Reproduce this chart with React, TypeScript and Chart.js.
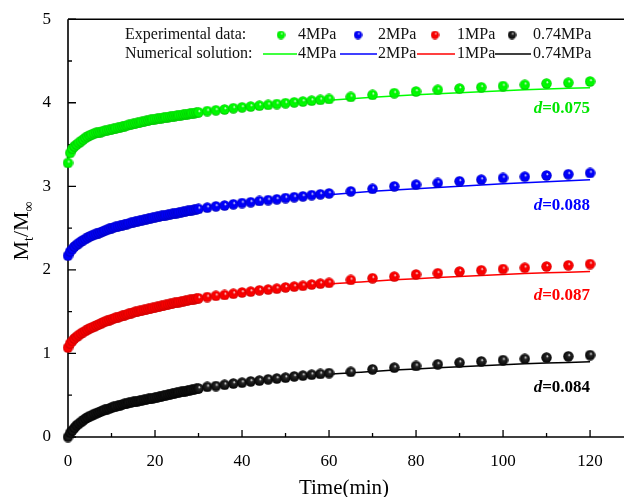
import React, { useEffect, useRef } from 'react';
import { Chart, registerables } from 'chart.js';

Chart.register(...registerables);

const expTimes = [
  0, 0.5, 1, 1.5, 2, 2.5, 3, 3.5, 4, 4.5,
  5, 5.5, 6, 6.5, 7, 7.5, 8, 8.5, 9, 9.5,
  10, 10.5, 11, 11.5, 12, 12.5, 13, 13.5, 14, 14.5,
  15, 15.5, 16, 16.5, 17, 17.5, 18, 18.5, 19, 19.5,
  20, 20.5, 21, 21.5, 22, 22.5, 23, 23.5, 24, 24.5,
  25, 25.5, 26, 26.5, 27, 27.5, 28, 28.5, 29, 29.5,
  30, 32, 34, 36, 38, 40, 42, 44, 46, 48,
  50, 52, 54, 56, 58, 60, 65, 70, 75, 80,
  85, 90, 95, 100, 105, 110, 115, 120,
];

const exp4MPa = [
  3.28, 3.40, 3.45, 3.48, 3.50, 3.52, 3.54, 3.56, 3.58, 3.595,
  3.61, 3.62, 3.63, 3.64, 3.645, 3.65, 3.66, 3.665, 3.67, 3.675,
  3.68, 3.687, 3.694, 3.70, 3.707, 3.714, 3.72, 3.727, 3.734, 3.74,
  3.746, 3.752, 3.758, 3.764, 3.77, 3.776, 3.782, 3.788, 3.794, 3.80,
  3.805, 3.809, 3.813, 3.817, 3.821, 3.825, 3.829, 3.833, 3.837, 3.841,
  3.845, 3.849, 3.853, 3.857, 3.861, 3.865, 3.869, 3.873, 3.877, 3.881,
  3.885, 3.90, 3.91, 3.92, 3.935, 3.945, 3.955, 3.965, 3.975, 3.985,
  3.995, 4.005, 4.015, 4.025, 4.035, 4.045, 4.07, 4.095, 4.115, 4.135,
  4.155, 4.17, 4.185, 4.20, 4.215, 4.23, 4.24, 4.255,
];

const exp2MPa = [
  2.17, 2.22, 2.25, 2.28, 2.30, 2.32, 2.34, 2.355, 2.37, 2.385,
  2.40, 2.41, 2.42, 2.43, 2.44, 2.45, 2.46, 2.47, 2.48, 2.49,
  2.50, 2.507, 2.514, 2.521, 2.528, 2.535, 2.542, 2.549, 2.556, 2.563,
  2.57, 2.576, 2.582, 2.588, 2.594, 2.60, 2.606, 2.612, 2.618, 2.624,
  2.63, 2.635, 2.64, 2.645, 2.65, 2.655, 2.66, 2.665, 2.67, 2.675,
  2.68, 2.685, 2.69, 2.695, 2.70, 2.705, 2.71, 2.715, 2.72, 2.725,
  2.73, 2.745, 2.76, 2.77, 2.785, 2.80, 2.81, 2.825, 2.835, 2.845,
  2.86, 2.87, 2.88, 2.895, 2.905, 2.915, 2.94, 2.97, 3.00, 3.02,
  3.04, 3.06, 3.08, 3.10, 3.115, 3.13, 3.145, 3.16,
];

const exp1MPa = [
  1.07, 1.12, 1.15, 1.18, 1.20, 1.22, 1.24, 1.255, 1.27, 1.285,
  1.30, 1.31, 1.32, 1.335, 1.345, 1.355, 1.37, 1.38, 1.39, 1.40,
  1.41, 1.418, 1.426, 1.434, 1.442, 1.45, 1.458, 1.466, 1.474, 1.482,
  1.49, 1.496, 1.502, 1.508, 1.514, 1.52, 1.526, 1.532, 1.538, 1.544,
  1.55, 1.556, 1.562, 1.568, 1.574, 1.58, 1.586, 1.592, 1.598, 1.604,
  1.61, 1.615, 1.62, 1.625, 1.63, 1.635, 1.64, 1.645, 1.65, 1.655,
  1.66, 1.675, 1.69, 1.70, 1.715, 1.73, 1.74, 1.755, 1.765, 1.775,
  1.79, 1.80, 1.81, 1.825, 1.835, 1.845, 1.88, 1.90, 1.92, 1.945,
  1.96, 1.98, 1.995, 2.01, 2.025, 2.04, 2.055, 2.07,
];

const exp074MPa = [
  0.00, 0.05, 0.08, 0.11, 0.14, 0.16, 0.18, 0.20, 0.22, 0.235,
  0.25, 0.26, 0.275, 0.285, 0.295, 0.305, 0.315, 0.325, 0.335, 0.34,
  0.35, 0.36, 0.365, 0.375, 0.38, 0.39, 0.395, 0.40, 0.41, 0.415,
  0.42, 0.425, 0.43, 0.435, 0.44, 0.445, 0.45, 0.455, 0.46, 0.465,
  0.47, 0.476, 0.482, 0.488, 0.494, 0.50, 0.506, 0.512, 0.518, 0.524,
  0.53, 0.535, 0.54, 0.545, 0.55, 0.555, 0.56, 0.565, 0.57, 0.575,
  0.58, 0.60, 0.61, 0.625, 0.64, 0.65, 0.665, 0.675, 0.69, 0.70,
  0.71, 0.725, 0.735, 0.745, 0.755, 0.765, 0.78, 0.81, 0.83, 0.85,
  0.87, 0.89, 0.905, 0.92, 0.935, 0.95, 0.965, 0.98,
];

const numTimes = [0, 0.5, 1, 2, 3, 5, 7.5, 10, 15, 20, 25, 30, 40, 50, 60, 70, 80, 90, 100, 110, 120];
const num4MPa = [3.28, 3.40, 3.45, 3.50, 3.54, 3.61, 3.65, 3.68, 3.746, 3.805, 3.845, 3.885, 3.945, 3.995, 4.03, 4.065, 4.095, 4.12, 4.145, 4.165, 4.18];
const num2MPa = [2.17, 2.23, 2.27, 2.33, 2.37, 2.43, 2.48, 2.53, 2.60, 2.66, 2.71, 2.75, 2.81, 2.86, 2.90, 2.94, 2.97, 3.00, 3.03, 3.055, 3.08];
const num1MPa = [1.07, 1.12, 1.15, 1.20, 1.24, 1.30, 1.355, 1.41, 1.49, 1.55, 1.61, 1.66, 1.725, 1.78, 1.83, 1.865, 1.895, 1.92, 1.945, 1.965, 1.98];
const num074MPa = [0, 0.05, 0.08, 0.14, 0.18, 0.25, 0.305, 0.35, 0.42, 0.47, 0.53, 0.58, 0.645, 0.70, 0.75, 0.785, 0.815, 0.84, 0.865, 0.885, 0.90];

const seriesNames = ['4MPa', '2MPa', '1MPa', '0.74MPa'];
const seriesColors = ['#00ff00', '#0000ff', '#ff0000', '#000000'];
const seriesMid = ['#00f000', '#0000f0', '#f00000', '#262626'];
const seriesDark = ['#00b400', '#0000b0', '#c00000', '#000000'];
const seriesLight = ['#f4fff4', '#f0f0ff', '#fff0f0', '#f4f4f4'];
const labelColors = ['#00e600', '#0000ff', '#ff0000', '#000000'];
const dValues = ['0.075', '0.088', '0.087', '0.084'];
const dLabelY = [3.925, 2.77, 1.69, 0.59];
const dLabelX = 120;

const xTickValues = [0, 20, 40, 60, 80, 100, 120];
const xMinorValues = [10, 30, 50, 70, 90, 110];
const yTickValues = [0, 1, 2, 3, 4, 5];
const yMinorValues = [0.5, 1.5, 2.5, 3.5, 4.5];

const xTitle = 'Time(min)';
const legendRow1 = 'Experimental data:';
const legendRow2 = 'Numerical solution:';

const SERIF = '"Liberation Serif", "Times New Roman", serif';

function makeMarker(i: number, size: number) {
  const c = document.createElement('canvas');
  c.width = size;
  c.height = size;
  const g = c.getContext('2d')!;
  const r = size / 2;
  const grad = g.createRadialGradient(r + 1, r - 1.5, 0.2, r, r, r);
  grad.addColorStop(0, seriesLight[i]);
  grad.addColorStop(0.25, seriesMid[i]);
  grad.addColorStop(0.7, seriesColors[i] === '#000000' ? '#111111' : seriesColors[i]);
  grad.addColorStop(1, seriesDark[i]);
  g.fillStyle = grad;
  g.beginPath();
  g.arc(r, r, r - 0.3, 0, Math.PI * 2);
  g.fill();
  return c;
}

export default function App() {
  const ref = useRef<HTMLCanvasElement | null>(null);

  useEffect(() => {
    if (!ref.current) return;
    const markers = [0, 1, 2, 3].map((i) => makeMarker(i, 11));
    const legendMarkers = [0, 1, 2, 3].map((i) => makeMarker(i, 9));
    const expSeries = [exp4MPa, exp2MPa, exp1MPa, exp074MPa];
    const numSeries = [num4MPa, num2MPa, num1MPa, num074MPa];

    const datasets: any[] = [];
    expSeries.forEach((vals, i) => {
      datasets.push({
        label: 'Experimental ' + seriesNames[i],
        data: expTimes.map((t, k) => ({ x: t, y: vals[k] })),
        pointStyle: markers[i],
        pointRadius: 5,
        showLine: false,
        borderColor: seriesColors[i],
        backgroundColor: seriesColors[i],
        order: 0,
        clip: false,
      });
    });
    numSeries.forEach((vals, i) => {
      datasets.push({
        label: 'Numerical ' + seriesNames[i],
        data: numTimes.map((t, k) => ({ x: t, y: vals[k] })),
        showLine: true,
        pointRadius: 0,
        borderColor: seriesColors[i],
        backgroundColor: seriesColors[i],
        borderWidth: 1.5,
        tension: 0.3,
        order: 1,
        clip: false,
      });
    });

    const decor = {
      id: 'decor',
      beforeDatasetsDraw(chart: any) {
        const ctx = chart.ctx;
        const { left, right, top, bottom } = chart.chartArea;
        const xs = chart.scales.x;
        const ys = chart.scales.y;
        ctx.save();
        ctx.strokeStyle = '#000';
        ctx.lineWidth = 1.6;
        ctx.beginPath();
        ctx.moveTo(left, top);
        ctx.lineTo(right, top);
        ctx.moveTo(left, top);
        ctx.lineTo(left, bottom);
        ctx.lineTo(right, bottom);
        ctx.stroke();
        ctx.lineWidth = 1.3;
        ctx.beginPath();
        xTickValues.forEach((v) => {
          const p = xs.getPixelForValue(v);
          ctx.moveTo(p, bottom);
          ctx.lineTo(p, bottom - 7);
        });
        xMinorValues.forEach((v) => {
          const p = xs.getPixelForValue(v);
          ctx.moveTo(p, bottom);
          ctx.lineTo(p, bottom - 4);
        });
        yTickValues.forEach((v) => {
          const p = ys.getPixelForValue(v);
          ctx.moveTo(left, p);
          ctx.lineTo(left + 8, p);
        });
        yMinorValues.forEach((v) => {
          const p = ys.getPixelForValue(v);
          ctx.moveTo(left, p);
          ctx.lineTo(left + 4, p);
        });
        ctx.stroke();
        ctx.restore();
      },
      afterDraw(chart: any) {
        const ctx = chart.ctx;
        const { left, right } = chart.chartArea;
        const xs = chart.scales.x;
        const ys = chart.scales.y;
        ctx.save();

        // Axis titles
        ctx.fillStyle = '#000';
        ctx.font = `21px ${SERIF}`;
        ctx.textAlign = 'center';
        ctx.textBaseline = 'middle';
        ctx.fillText(xTitle, (left + right) / 2 - 2, 488);

        ctx.save();
        ctx.translate(28, 231);
        ctx.rotate(-Math.PI / 2);
        ctx.textAlign = 'left';
        ctx.textBaseline = 'alphabetic';
        const big = `22px ${SERIF}`;
        const small = `14px ${SERIF}`;
        const parts = [
          { t: 'M', f: big, dy: 0 },
          { t: 't', f: small, dy: 5 },
          { t: '/M', f: big, dy: 0 },
          { t: '\u221E', f: small, dy: 5 },
        ];
        let total = 0;
        parts.forEach((p) => { ctx.font = p.f; total += ctx.measureText(p.t).width; });
        let cx = -total / 2;
        parts.forEach((p) => {
          ctx.font = p.f;
          ctx.fillText(p.t, cx, p.dy);
          cx += ctx.measureText(p.t).width;
        });
        ctx.restore();

        // Legend
        ctx.font = `16px ${SERIF}`;
        ctx.textAlign = 'left';
        ctx.textBaseline = 'middle';
        ctx.fillStyle = '#111';
        const row1 = 35;
        const row2 = 54;
        ctx.fillText(legendRow1, 125, row1);
        ctx.fillText(legendRow2, 125, row2);
        const dotX = [281, 358, 435, 512];
        const textX1 = [298, 378, 457, 533];
        dotX.forEach((x, i) => {
          ctx.drawImage(legendMarkers[i], x - 4.5, row1 - 4.5, 9, 9);
          ctx.fillStyle = '#111';
          ctx.fillText(seriesNames[i], textX1[i], row1);
        });
        const lineStart = [263, 340, 417, 495];
        const lineEnd = [297, 377, 455, 531];
        const textX2 = [298, 378, 457, 533];
        lineStart.forEach((x, i) => {
          ctx.strokeStyle = seriesColors[i];
          ctx.lineWidth = 1.3;
          ctx.beginPath();
          ctx.moveTo(x, row2);
          ctx.lineTo(lineEnd[i], row2);
          ctx.stroke();
          ctx.fillStyle = '#111';
          ctx.fillText(seriesNames[i], textX2[i], row2);
        });

        // d labels
        dValues.forEach((v, i) => {
          const rx = xs.getPixelForValue(dLabelX);
          const py = ys.getPixelForValue(dLabelY[i]);
          const rest = '=' + v;
          ctx.font = `bold 17px ${SERIF}`;
          const wRest = ctx.measureText(rest).width;
          ctx.font = `italic bold 17px ${SERIF}`;
          const wD = ctx.measureText('d').width;
          const x0 = rx - wRest - wD;
          ctx.fillStyle = labelColors[i];
          ctx.textAlign = 'left';
          ctx.fillText('d', x0, py);
          ctx.font = `bold 17px ${SERIF}`;
          ctx.fillText(rest, x0 + wD, py);
        });
        ctx.restore();
      },
    };

    const chart = new Chart(ref.current, {
      type: 'scatter',
      data: { datasets },
      options: {
        animation: false,
        responsive: false,
        maintainAspectRatio: false,
        layout: { padding: { top: 17, right: 0, left: 0, bottom: 0 } },
        plugins: {
          legend: { display: false },
          tooltip: { enabled: false },
          title: { display: false },
        },
        scales: {
          x: {
            type: 'linear',
            min: 0,
            max: 127.8,
            grid: { display: false },
            border: { display: false },
            afterBuildTicks: (scale: any) => {
              scale.ticks = xTickValues.map((v) => ({ value: v }));
            },
            afterFit: (scale: any) => {
              scale.height = 60;
            },
            ticks: {
              autoSkip: false,
              maxRotation: 0,
              padding: 6,
              color: '#000',
              font: { family: SERIF, size: 17 },
            },
          },
          y: {
            type: 'linear',
            min: 0,
            max: 5,
            grid: { display: false },
            border: { display: false },
            afterBuildTicks: (scale: any) => {
              scale.ticks = yTickValues.map((v) => ({ value: v }));
            },
            afterFit: (scale: any) => {
              scale.width = 68;
            },
            ticks: {
              autoSkip: false,
              padding: 9,
              color: '#000',
              font: { family: SERIF, size: 17 },
            },
          },
        },
      },
      plugins: [decor],
    } as any);

    return () => chart.destroy();
  }, []);

  return (
    <div style={{ position: 'absolute', left: 0, top: 0, width: 630, height: 497, background: '#fff' }}>
      <canvas ref={ref} width={630} height={497} style={{ width: 630, height: 497, display: 'block' }} />
    </div>
  );
}
